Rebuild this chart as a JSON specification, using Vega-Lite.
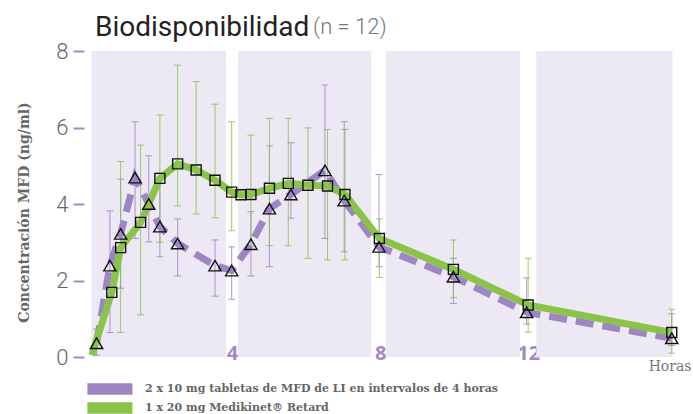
{
  "$schema": "https://vega.github.io/schema/vega-lite/v6.json",
  "width": 607,
  "height": 306,
  "autosize": {"type": "none"},
  "padding": {"left": 84, "top": 51, "right": 2, "bottom": 57},
  "background": "white",
  "title": {"text": "Biodisponibilidad", "anchor": "start", "frame": "group", "dx": 11, "offset": -26, "fontSize": 28, "font": "Roboto", "fontWeight": "normal", "color": "#222222"},
  "config": {"view": {"stroke": null}},
  "datasets": {
    "bands": [
      {"t": 0.2, "e": 3.84},
      {"t": 4.16, "e": 7.76},
      {"t": 8.16, "e": 11.78},
      {"t": 12.22, "e": 15.9}
    ],
    "pk": [
      {"s": "2 x 10 mg tabletas de MFD de LI en intervalos de 4 horas", "t": 0.34, "y": 0.36, "lo": 0.05, "hi": 0.73},
      {"s": "2 x 10 mg tabletas de MFD de LI en intervalos de 4 horas", "t": 0.70, "y": 2.39, "lo": 0.64, "hi": 3.82},
      {"s": "2 x 10 mg tabletas de MFD de LI en intervalos de 4 horas", "t": 0.99, "y": 3.22, "lo": 1.80, "hi": 4.65},
      {"s": "2 x 10 mg tabletas de MFD de LI en intervalos de 4 horas", "t": 1.38, "y": 4.69, "lo": 3.10, "hi": 6.15},
      {"s": "2 x 10 mg tabletas de MFD de LI en intervalos de 4 horas", "t": 1.75, "y": 4.00, "lo": 3.01, "hi": 5.26},
      {"s": "2 x 10 mg tabletas de MFD de LI en intervalos de 4 horas", "t": 2.05, "y": 3.41, "lo": 2.62, "hi": 4.81},
      {"s": "2 x 10 mg tabletas de MFD de LI en intervalos de 4 horas", "t": 2.53, "y": 2.97, "lo": 2.12, "hi": 3.61},
      {"s": "2 x 10 mg tabletas de MFD de LI en intervalos de 4 horas", "t": 3.54, "y": 2.39, "lo": 1.59, "hi": 3.06},
      {"s": "2 x 10 mg tabletas de MFD de LI en intervalos de 4 horas", "t": 3.99, "y": 2.26, "lo": 1.51, "hi": 2.88},
      {"s": "2 x 10 mg tabletas de MFD de LI en intervalos de 4 horas", "t": 4.51, "y": 2.95, "lo": 2.12, "hi": 3.80},
      {"s": "2 x 10 mg tabletas de MFD de LI en intervalos de 4 horas", "t": 5.01, "y": 3.88, "lo": 2.36, "hi": 5.52},
      {"s": "2 x 10 mg tabletas de MFD de LI en intervalos de 4 horas", "t": 5.59, "y": 4.25, "lo": 3.63, "hi": 5.60},
      {"s": "2 x 10 mg tabletas de MFD de LI en intervalos de 4 horas", "t": 6.51, "y": 4.88, "lo": 3.10, "hi": 7.11},
      {"s": "2 x 10 mg tabletas de MFD de LI en intervalos de 4 horas", "t": 7.03, "y": 4.09, "lo": 2.75, "hi": 6.15},
      {"s": "2 x 10 mg tabletas de MFD de LI en intervalos de 4 horas", "t": 7.97, "y": 2.88, "lo": 2.36, "hi": 4.77},
      {"s": "2 x 10 mg tabletas de MFD de LI en intervalos de 4 horas", "t": 9.98, "y": 2.10, "lo": 1.40, "hi": 2.58},
      {"s": "2 x 10 mg tabletas de MFD de LI en intervalos de 4 horas", "t": 11.96, "y": 1.17, "lo": 0.86, "hi": 2.07},
      {"s": "2 x 10 mg tabletas de MFD de LI en intervalos de 4 horas", "t": 15.88, "y": 0.49, "lo": 0.30, "hi": 1.13},
      {"s": "1 x 20 mg Medikinet® Retard", "t": 0.21, "y": 0.05, "lo": null, "hi": null},
      {"s": "1 x 20 mg Medikinet® Retard", "t": 0.75, "y": 1.69, "lo": null, "hi": null},
      {"s": "1 x 20 mg Medikinet® Retard", "t": 0.99, "y": 2.86, "lo": 0.64, "hi": 5.11},
      {"s": "1 x 20 mg Medikinet® Retard", "t": 1.53, "y": 3.52, "lo": 1.10, "hi": 5.54},
      {"s": "1 x 20 mg Medikinet® Retard", "t": 2.05, "y": 4.67, "lo": 3.00, "hi": 6.33},
      {"s": "1 x 20 mg Medikinet® Retard", "t": 2.53, "y": 5.05, "lo": 3.95, "hi": 7.63},
      {"s": "1 x 20 mg Medikinet® Retard", "t": 3.03, "y": 4.89, "lo": 3.74, "hi": 7.20},
      {"s": "1 x 20 mg Medikinet® Retard", "t": 3.54, "y": 4.62, "lo": 3.64, "hi": 6.61},
      {"s": "1 x 20 mg Medikinet® Retard", "t": 3.99, "y": 4.31, "lo": 3.30, "hi": 6.15},
      {"s": "1 x 20 mg Medikinet® Retard", "t": 4.24, "y": 4.24, "lo": null, "hi": null},
      {"s": "1 x 20 mg Medikinet® Retard", "t": 4.51, "y": 4.25, "lo": 2.90, "hi": 5.80},
      {"s": "1 x 20 mg Medikinet® Retard", "t": 5.01, "y": 4.41, "lo": 2.91, "hi": 6.24},
      {"s": "1 x 20 mg Medikinet® Retard", "t": 5.52, "y": 4.54, "lo": 2.91, "hi": 6.24},
      {"s": "1 x 20 mg Medikinet® Retard", "t": 6.05, "y": 4.49, "lo": 2.58, "hi": 5.99},
      {"s": "1 x 20 mg Medikinet® Retard", "t": 6.58, "y": 4.47, "lo": 2.54, "hi": 5.95},
      {"s": "1 x 20 mg Medikinet® Retard", "t": 7.05, "y": 4.25, "lo": 2.54, "hi": 5.95},
      {"s": "1 x 20 mg Medikinet® Retard", "t": 7.98, "y": 3.10, "lo": 2.08, "hi": 3.61},
      {"s": "1 x 20 mg Medikinet® Retard", "t": 9.98, "y": 2.29, "lo": 1.55, "hi": 3.06},
      {"s": "1 x 20 mg Medikinet® Retard", "t": 12.0, "y": 1.36, "lo": 0.65, "hi": 2.58},
      {"s": "1 x 20 mg Medikinet® Retard", "t": 15.88, "y": 0.64, "lo": 0.10, "hi": 1.25}
    ]
  },
  "layer": [
    {
      "data": {"name": "bands"},
      "mark": {"type": "rect", "color": "#ece9f5"},
      "encoding": {
        "x": {"field": "t", "type": "quantitative", "scale": {"domain": [0, 16.4], "nice": false, "zero": false}},
        "x2": {"field": "e"},
        "y": {"datum": 0, "type": "quantitative", "scale": {"domain": [0, 8], "nice": false}},
        "y2": {"datum": 8}
      }
    },
    {
      "data": {"name": "pk"},
      "encoding": {
        "x": {
          "field": "t", "type": "quantitative",
          "scale": {"domain": [0, 16.4], "nice": false, "zero": false},
          "axis": {
            "values": [4, 8, 12], "title": "Horas", "titleAnchor": "end",
            "titleFont": "DejaVu Serif", "titleFontSize": 14, "titleFontWeight": "normal", "titleColor": "#777777", "titlePadding": -4,
            "labelFont": "Open Sans", "labelFontWeight": "bold", "labelFontSize": 20, "labelColor": "#9f89c7",
            "labelPadding": -4, "labelBaseline": "middle", "ticks": false, "domain": false, "grid": false
          }
        },
        "y": {
          "field": "y", "type": "quantitative",
          "scale": {"domain": [0, 8], "nice": false},
          "axis": {
            "values": [0, 2, 4, 6, 8], "title": "Concentración MFD (ng/ml)", "titleY": 161,
            "titleFont": "DejaVu Serif", "titleFontWeight": "bold", "titleFontSize": 14, "titleColor": "#666666", "titlePadding": 24,
            "labelFont": "Roboto", "labelFontWeight": 300, "labelFontSize": 22, "labelColor": "#666666", "labelPadding": 5,
            "tickColor": "#a08bc8", "tickSize": 11, "tickWidth": 2, "domain": false, "grid": false
          }
        }
      },
      "layer": [
        {
          "transform": [{"filter": "datum.lo != null"}],
          "mark": {"type": "errorbar", "ticks": {"size": 7}, "thickness": 1, "opacity": 0.85},
          "encoding": {
            "y": {"field": "lo", "type": "quantitative"},
            "y2": {"field": "hi"},
            "color": {"field": "s", "type": "nominal"}
          }
        },
        {
          "mark": {"type": "line", "strokeWidth": 7},
          "encoding": {
            "color": {
              "field": "s", "type": "nominal",
              "scale": {"domain": ["2 x 10 mg tabletas de MFD de LI en intervalos de 4 horas", "1 x 20 mg Medikinet® Retard"], "range": ["#9d86c3", "#8bc34a"]},
              "legend": {
                "orient": "none", "legendX": 3, "legendY": 332, "direction": "vertical", "title": null,
                "symbolType": "M-1,-1H7V1H-1Z", "symbolSize": 127, "symbolStrokeWidth": 0,
                "labelFont": "DejaVu Serif", "labelFontWeight": "bold", "labelFontSize": 11, "labelColor": "#666666",
                "labelOffset": 46, "rowPadding": 7, "labelLimit": 600,
                "encode": {"symbols": {"update": {"fill": {"scale": "color", "field": "value"}, "stroke": {"value": "transparent"}, "opacity": {"value": 1}}}}
              }
            },
            "strokeDash": {
              "field": "s", "type": "nominal",
              "scale": {"domain": ["2 x 10 mg tabletas de MFD de LI en intervalos de 4 horas", "1 x 20 mg Medikinet® Retard"], "range": [[18, 9], [1, 0]]},
              "legend": null
            }
          }
        },
        {
          "transform": [{"filter": "datum.s == '2 x 10 mg tabletas de MFD de LI en intervalos de 4 horas'"}],
          "mark": {"type": "point", "shape": "triangle-up", "size": 150, "filled": false, "color": "#111111", "strokeWidth": 1.4, "opacity": 1}
        },
        {
          "transform": [{"filter": "datum.s == '1 x 20 mg Medikinet® Retard' && datum.t > 0.3"}],
          "mark": {"type": "point", "shape": "square", "size": 100, "filled": false, "color": "#111111", "strokeWidth": 1.4, "opacity": 1}
        }
      ]
    },
    {
      "data": {"values": [{"label": "(n = 12)"}]},
      "mark": {"type": "text", "align": "left", "baseline": "alphabetic", "fontSize": 22, "font": "Roboto", "fontWeight": 300, "color": "#777777"},
      "encoding": {
        "x": {"datum": 6.19, "type": "quantitative"},
        "y": {"datum": 8.45, "type": "quantitative"},
        "text": {"field": "label"}
      }
    }
  ]
}
